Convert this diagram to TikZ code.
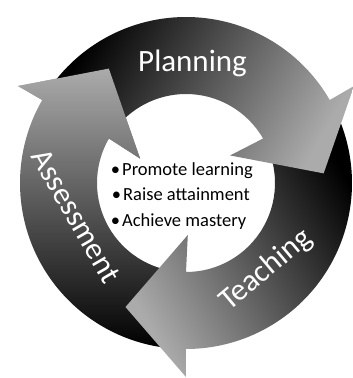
\documentclass[tikz,border=0pt]{standalone}
\usepackage{fontspec}
\setmainfont{Carlito}

% one curved arrow of the cycle, turned by #1 degrees
\newcommand{\cyclearrow}[1]{%
  (#1+145:166) arc[start angle=#1+145, end angle=#1+30, radius=166]
  -- (#1+30:194) -- (#1+4:138) -- (#1+32:52) -- (#1+30:89)
  arc[start angle=#1+30, end angle=#1+145, radius=89] -- cycle}
\newcommand{\cyclehead}[1]{%
  (#1+30:194) -- (#1+4:138) -- (#1+32:52) -- cycle}

\begin{document}
\begin{tikzpicture}[x=1pt, y=1pt,
    arrowshade/.style={top color=black, bottom color=black!33, shading angle=#1},
    ringtext/.style={text=white, font=\fontsize{31}{31}\selectfont, inner sep=0pt},
    listtext/.style={text=black, font=\fontsize{18.5}{22}\selectfont, inner sep=0pt, anchor=base west}]
    \useasboundingbox (-186, -195) rectangle (167, 183);

    % arrows, each head lies on the tail of the next one
    \shade[arrowshade=180] \cyclearrow{120};
    \shade[arrowshade=-60] \cyclearrow{-120};
    \shade[arrowshade=60] \cyclearrow{0};
    \begin{scope}
        \clip \cyclehead{120};
        \shade[arrowshade=180] \cyclearrow{120};
    \end{scope}

    \node[ringtext, anchor=base] (planning) at (6.5, 111) {Planning};
    \node[ringtext, rotate=40] (teaching) at (80, -87) {Teaching};
    \node[ringtext, rotate=-60] (assessment) at (-110, -33) {Assessment};

    \node[listtext] (promote) at (-64, 8) {\llap{\textbullet\hspace{2pt}}Promote learning};
    \node[listtext] (raise) at (-63, -17.5) {\llap{\textbullet\hspace{2pt}}Raise attainment};
    \node[listtext] (achieve) at (-64, -43) {\llap{\textbullet\hspace{2pt}}Achieve mastery};
\end{tikzpicture}
\end{document}
